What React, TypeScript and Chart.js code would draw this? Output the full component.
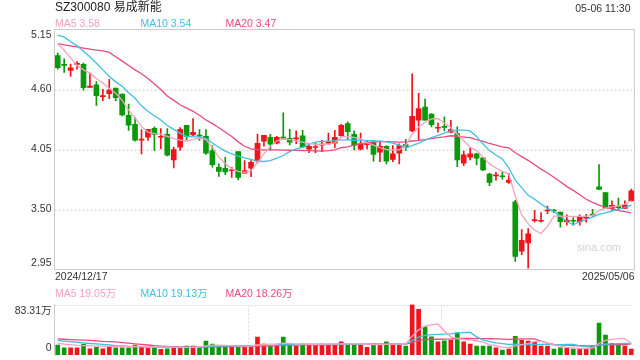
import { useEffect, useRef } from "react";
import { Chart, registerables } from "chart.js";
Chart.register(...registerables);

const title = "SZ300080 易成新能";
const timeLabel = "05-06 11:30";

const dates = [
  "2024/12/17","2024/12/18","2024/12/19","2024/12/20","2024/12/23","2024/12/24","2024/12/25","2024/12/26","2024/12/27","2024/12/30","2024/12/31",
  "2025/01/02","2025/01/03","2025/01/06","2025/01/07","2025/01/08","2025/01/09","2025/01/10","2025/01/13","2025/01/14","2025/01/15","2025/01/16","2025/01/17","2025/01/20","2025/01/21","2025/01/22","2025/01/23","2025/01/24","2025/01/27",
  "2025/02/05","2025/02/06","2025/02/07","2025/02/10","2025/02/11","2025/02/12","2025/02/13","2025/02/14","2025/02/17","2025/02/18","2025/02/19","2025/02/20","2025/02/21","2025/02/24","2025/02/25","2025/02/26","2025/02/27","2025/02/28",
  "2025/03/03","2025/03/04","2025/03/05","2025/03/06","2025/03/07","2025/03/10","2025/03/11","2025/03/12","2025/03/13","2025/03/14","2025/03/17","2025/03/18","2025/03/19","2025/03/20","2025/03/21","2025/03/24","2025/03/25","2025/03/26","2025/03/27","2025/03/28","2025/03/31",
  "2025/04/01","2025/04/02","2025/04/03","2025/04/07","2025/04/08","2025/04/09","2025/04/10","2025/04/11","2025/04/14","2025/04/15","2025/04/16","2025/04/17","2025/04/18","2025/04/21","2025/04/22","2025/04/23","2025/04/24","2025/04/25","2025/04/28","2025/04/29","2025/04/30",
  "2025/05/06"
];

const opens = [
  4.91,4.83,4.774,4.83,4.83,4.62,4.642,4.535,4.562,4.614,
  4.558,4.364,4.281,4.136,4.164,4.244,4.162,4.189,3.955,4.072,
  4.272,4.183,4.178,4.17,4.041,3.887,3.878,3.855,4.032,3.832,
  3.878,3.942,4.127,4.161,4.109,4.158,4.152,4.147,4.176,4.053,
  4.068,4.09,4.109,4.109,4.176,4.287,4.189,4.053,4.094,4.118,
  4.025,4.078,3.958,4.016,4.096,4.22,4.318,4.438,4.374,4.245,
  4.256,4.21,4.195,3.924,3.979,4.01,3.973,3.825,3.808,3.803,
  3.748,3.57,3.117,3.194,3.398,3.392,3.486,3.49,3.477,3.388,
  3.395,3.388,3.42,3.452,3.708,3.656,3.511,3.52,3.511,3.579
];
const closes = [
  4.80,4.82,4.799,4.835,4.617,4.632,4.543,4.54,4.595,4.525,
  4.367,4.272,4.136,4.14,4.235,4.189,4.166,3.998,4.05,4.235,
  4.17,4.207,4.172,4.016,3.912,3.85,3.844,3.86,3.794,3.856,
  3.933,4.106,4.18,4.099,4.161,4.155,4.118,4.15,4.072,4.078,
  4.072,4.094,4.121,4.161,4.272,4.213,4.087,4.103,4.097,4.004,
  4.078,3.942,4.01,4.087,4.072,4.355,4.426,4.318,4.278,4.248,
  4.253,4.232,3.955,4.001,4.01,3.97,3.862,3.748,3.811,3.80,
  3.77,3.07,3.218,3.277,3.402,3.395,3.49,3.486,3.388,3.403,
  3.392,3.431,3.425,3.449,3.684,3.511,3.539,3.517,3.542,3.671
];
const highs = [
  4.934,4.88,4.833,4.857,4.842,4.75,4.672,4.602,4.694,4.614,
  4.558,4.466,4.343,4.232,4.235,4.257,4.241,4.241,4.072,4.251,
  4.272,4.334,4.232,4.232,4.087,3.918,3.979,3.887,4.032,3.948,
  3.948,4.192,4.18,4.189,4.17,4.386,4.235,4.22,4.226,4.102,
  4.109,4.133,4.201,4.226,4.281,4.303,4.22,4.201,4.127,4.133,
  4.124,4.087,4.087,4.102,4.143,4.743,4.565,4.512,4.38,4.293,
  4.349,4.318,4.257,4.035,4.066,4.016,3.973,3.834,3.841,3.841,
  3.832,3.585,3.317,3.326,3.493,3.471,3.532,3.502,3.477,3.45,
  3.425,3.45,3.456,3.502,3.912,3.656,3.579,3.604,3.579,3.687
];
const lows = [
  4.786,4.756,4.719,4.786,4.595,4.62,4.454,4.497,4.515,4.497,
  4.358,4.226,4.127,4.01,4.133,4.041,4.056,3.992,3.881,4.041,
  4.136,4.176,4.133,4.004,3.887,3.804,3.819,3.794,3.772,3.832,
  3.80,3.927,4.081,4.047,4.102,4.146,4.093,4.103,4.066,4.022,
  4.022,4.032,4.096,4.066,4.17,4.139,4.047,4.047,4.056,3.942,
  3.939,3.918,3.939,3.918,4.041,4.214,4.139,4.318,4.257,4.21,
  4.22,4.201,3.893,3.902,3.955,3.911,3.856,3.718,3.77,3.779,
  3.739,3.024,3.086,2.963,3.385,3.385,3.462,3.471,3.339,3.357,
  3.357,3.357,3.385,3.44,3.684,3.511,3.493,3.508,3.511,3.579
];

const ma5 = [
  5.02,4.96,4.89,4.82,4.78,4.75,4.70,4.66,4.61,4.565,
  4.50,4.41,4.34,4.26,4.21,4.195,4.19,4.17,4.15,4.135,
  4.127,4.14,4.155,4.14,4.07,3.98,3.92,3.875,3.85,3.84,
  3.855,3.93,4.01,4.08,4.13,4.146,4.14,4.13,4.118,4.105,
  4.098,4.096,4.10,4.11,4.165,4.168,4.16,4.15,4.11,4.09,
  4.066,4.05,4.047,4.047,4.087,4.19,4.256,4.30,4.33,4.334,
  4.29,4.25,4.19,4.13,4.07,4.04,3.98,3.918,3.88,3.85,
  3.825,3.62,3.45,3.37,3.31,3.28,3.348,3.44,3.44,3.437,
  3.437,3.437,3.44,3.446,3.49,3.51,3.525,3.533,3.55,3.58
];
const ma10 = [
  5.098,5.08,5.04,5.00,4.95,4.90,4.84,4.78,4.72,4.67,
  4.63,4.57,4.52,4.45,4.40,4.36,4.32,4.27,4.235,4.20,
  4.17,4.165,4.165,4.15,4.11,4.07,4.035,4.01,3.99,3.973,
  3.96,3.942,3.94,3.948,3.97,3.995,4.03,4.055,4.07,4.10,
  4.118,4.125,4.127,4.13,4.139,4.139,4.135,4.133,4.13,4.128,
  4.127,4.12,4.109,4.09,4.066,4.085,4.109,4.135,4.158,4.18,
  4.20,4.22,4.228,4.228,4.22,4.17,4.10,4.04,4.00,3.964,
  3.88,3.77,3.70,3.63,3.594,3.55,3.51,3.48,3.44,3.39,
  3.36,3.39,3.41,3.43,3.456,3.47,3.485,3.50,3.52,3.54
];
const ma20 = [
  5.021,5.01,5.00,4.99,4.98,4.97,4.96,4.955,4.94,4.90,
  4.86,4.82,4.78,4.745,4.70,4.65,4.60,4.54,4.50,4.46,
  4.43,4.40,4.364,4.32,4.287,4.25,4.21,4.17,4.12,4.08,
  4.055,4.047,4.047,4.047,4.047,4.045,4.043,4.042,4.041,4.04,
  4.037,4.035,4.04,4.047,4.066,4.075,4.09,4.103,4.11,4.118,
  4.124,4.122,4.12,4.118,4.12,4.128,4.133,4.14,4.15,4.158,
  4.165,4.176,4.17,4.164,4.158,4.14,4.125,4.105,4.09,4.075,
  4.066,4.02,3.985,3.95,3.91,3.87,3.835,3.795,3.755,3.71,
  3.675,3.635,3.594,3.565,3.54,3.52,3.505,3.49,3.48,3.47
];

const volumes = [
  16.3,12,12,12,18,10.3,12.6,10.3,12.6,12,
  12,12,16.3,13.6,12,12,9.2,10.3,10.9,12,
  14.7,14.7,12.6,22.9,18,12.6,14.7,14.7,12.6,14.7,
  14.7,29.4,18,14.7,16.3,29.4,16.3,14.7,18,16.3,
  16.3,18,18,18,21.8,18,16.3,18,12.5,18,
  16.3,21.8,18,18,14.7,83.31,75.2,46.3,29.9,21.8,
  23.4,24.5,36.5,21.8,18,14.7,14.7,14.7,12,8.2,
  9.8,31,24.5,22.9,21.2,14.7,14.7,9.8,12,12,
  9.8,9.8,9.8,14.7,52.8,32.7,19.1,16.3,14.7,9.8
];
const volMa5 = [
  19,18,17,16,15.5,15,14.7,14.5,14.2,14,
  14,14,14,13.8,13.6,13.6,13.5,13.2,12.8,12.5,
  12.5,12.8,13.5,15,16.3,16.3,16,15.5,14.7,14.5,
  14.5,16.5,17.5,18,18.5,19.5,19,18,17.8,17.5,
  17,17.5,18,18,18.5,18.8,18.5,18.5,17.5,17,
  17,17.5,18,18.5,18,31,41.5,47.5,49.8,51.2,
  39.5,30,27.2,25.6,24.8,23.1,21.1,17,15,13,
  12,15.1,17.1,19.3,21.9,22.9,19.6,16.7,14.5,12.6,
  11.7,10.7,10.7,11.2,19.4,24,25.8,27.1,27.1,19.05
];
const volMa10 = [
  24,23,22,21,20,19,18.5,17.5,16.5,15.5,
  15,14.2,13.8,13.5,13.3,13,12.8,12.6,12.5,12.4,
  12.4,12.6,12.8,13.5,14.2,14.5,14.8,15,15.3,15.3,
  15.3,16,16,16,16.2,17,17.5,17.5,18,18,
  18,18,17.5,17.8,18.3,18,17.8,17.6,17.6,17.6,
  17.8,18,18.2,18,17.6,24,29.5,32.5,33.5,34,
  34.5,35,36.5,37,37.5,30,25,22,20,18.9,
  17.5,18,17,17,17.4,17.4,17.4,16.9,16.9,17.3,
  17.3,15.1,13.7,12.9,16,17.8,18.3,18.9,19.2,19.13
];
const volMa20 = [
  26.5,26,25.5,25,24.5,24,23.3,22.5,22,21.5,
  20.5,19.5,18.5,17.5,16.5,15.5,14.8,14,13.6,13.3,
  13,13,13,13.3,13.6,13.6,13.7,13.8,13.9,14,
  14.2,14.8,15,15.2,15.4,16,16.2,16.3,16.6,16.6,
  16.7,16.8,16.8,17,17.3,17.5,17.6,17.6,17.8,17.8,
  17.9,17.8,17.8,17.9,17.8,21,24,25.5,26,26,
  26.3,26.5,27.2,27.2,27.2,27,26.9,26.8,26.5,26.1,
  25.7,26.2,26.5,26.5,26.7,23,19.5,17.6,16.7,16.2,
  15.7,15.4,15.2,15,16.5,17,16.9,16.9,17.3,18.26
];

const priceTicks = [5.15, 4.6, 4.05, 3.5, 2.95];
const volTicks = [83.31, 0];

const RED = "#f0141c";
const GREEN = "#0a990a";
const C5 = "#f7a1c1";
const C10 = "#3ec0e0";
const C20 = "#e94b7e";
const FRAME = "#cccccc";
const GRID = "#dcdcdc";
const TEXT = "#333333";
const FONT = '"Liberation Sans", Arial, "Noto Sans CJK SC", sans-serif';

const upFlags = closes.map((c, i) => c >= opens[i]);
const candleColors = upFlags.map((u) => (u ? RED : GREEN));

const lastOf = (a: number[]) => a[a.length - 1];

const pricePlugin = {
  id: "pricePlugin",
  beforeDatasetsDraw(chart: any) {
    const { ctx, chartArea: a, scales } = chart;
    const y = scales.y;
    ctx.save();
    ctx.strokeStyle = GRID;
    ctx.lineWidth = 1.5;
    ctx.setLineDash([2, 2]);
    priceTicks.slice(1, -1).forEach((v) => {
      const py = Math.round(y.getPixelForValue(v)) + 0.25;
      ctx.beginPath();
      ctx.moveTo(a.left, py);
      ctx.lineTo(a.right, py);
      ctx.stroke();
    });
    ctx.restore();
  },
  afterDatasetsDraw(chart: any) {
    const { ctx, chartArea: a } = chart;
    ctx.save();
    ctx.strokeStyle = FRAME;
    ctx.lineWidth = 1;
    ctx.strokeRect(a.left, a.top, a.right - a.left, a.bottom - a.top);
    ctx.restore();
  },
  afterDraw(chart: any) {
    const { ctx, chartArea: a, scales } = chart;
    const y = scales.y;
    ctx.save();
    ctx.textBaseline = "middle";
    // y labels
    ctx.font = `10.5px ${FONT}`;
    ctx.fillStyle = TEXT;
    ctx.textAlign = "right";
    priceTicks.forEach((v) => {
      let py = y.getPixelForValue(v);
      py = Math.min(Math.max(py, a.top + 5.5), a.bottom - 6);
      ctx.fillText(v.toFixed(2), a.left - 3, py);
    });
    // dates
    ctx.textAlign = "left";
    ctx.fillText(dates[0], a.left + 0.5, a.bottom + 7.3);
    ctx.textAlign = "right";
    ctx.fillText(dates[dates.length - 1], a.right, a.bottom + 7.3);
    // time
    ctx.fillText(timeLabel, 630.5, 9);
    // title
    ctx.textAlign = "left";
    ctx.font = `12px ${FONT}`;
    ctx.fillStyle = "#222";
    ctx.fillText(title, 55, 7.5);
    // legend
    ctx.font = `10.5px ${FONT}`;
    ctx.fillStyle = C5;
    ctx.fillText(`MA5 ${lastOf(ma5).toFixed(2)}`, 55, 24);
    ctx.fillStyle = C10;
    ctx.fillText(`MA10 ${lastOf(ma10).toFixed(2)}`, 140.5, 24);
    ctx.fillStyle = C20;
    ctx.fillText(`MA20 ${lastOf(ma20).toFixed(2)}`, 225.5, 24);
    // watermark
    ctx.font = `11px ${FONT}`;
    ctx.fillStyle = "#d2d2d2";
    ctx.textAlign = "right";
    ctx.fillText("sina.com", 621, 248);
    ctx.restore();
  },
};

const volPlugin = {
  id: "volPlugin",
  beforeDatasetsDraw(chart: any) {
    const { ctx, chartArea: a, scales } = chart;
    const y = scales.y;
    ctx.save();
    ctx.strokeStyle = GRID;
    ctx.lineWidth = 1;
    ctx.setLineDash([2, 2]);
    const ty = Math.round(y.getPixelForValue(volTicks[0])) + 0.5;
    ctx.beginPath();
    ctx.moveTo(a.left, ty);
    ctx.lineTo(a.right, ty);
    ctx.stroke();
    const w = a.right - a.left;
    [1, 2].forEach((k) => {
      const px = Math.round(a.left + (w * k) / 3) + 0.5;
      ctx.beginPath();
      ctx.moveTo(px, ty);
      ctx.lineTo(px, a.bottom);
      ctx.stroke();
    });
    ctx.setLineDash([]);
    ctx.strokeStyle = FRAME;
    ctx.beginPath();
    ctx.moveTo(a.left, a.top - 0.5);
    ctx.lineTo(a.left, a.bottom + 1);
    ctx.stroke();
    ctx.restore();
  },
  afterDraw(chart: any) {
    const { ctx, chartArea: a, scales } = chart;
    const y = scales.y;
    ctx.save();
    ctx.textBaseline = "middle";
    ctx.font = `10.5px ${FONT}`;
    ctx.fillStyle = TEXT;
    ctx.textAlign = "right";
    volTicks.forEach((v) => {
      let py = y.getPixelForValue(v);
      py = Math.min(Math.max(py, a.top + 7), a.bottom - 6.7);
      ctx.fillText(v === 0 ? "0" : `${v.toFixed(2)}万`, a.left - 3, py);
    });
    ctx.textAlign = "left";
    ctx.fillStyle = C5;
    ctx.fillText(`MA5 ${lastOf(volMa5).toFixed(2)}万`, 55, 9);
    ctx.fillStyle = C10;
    ctx.fillText(`MA10 ${lastOf(volMa10).toFixed(2)}万`, 140.5, 9);
    ctx.fillStyle = C20;
    ctx.fillText(`MA20 ${lastOf(volMa20).toFixed(2)}万`, 225.5, 9);
    ctx.restore();
  },
};

const lineDs = (label: string, data: number[], color: string) => ({
  type: "line" as const,
  label,
  data,
  borderColor: color,
  borderWidth: 1.3,
  pointRadius: 0,
  fill: false,
  tension: 0,
  order: 0,
});

export default function App() {
  const pRef = useRef<HTMLCanvasElement>(null);
  const vRef = useRef<HTMLCanvasElement>(null);

  useEffect(() => {
    document.body.style.margin = "0";
    const common: any = {
      responsive: false,
      maintainAspectRatio: false,
      animation: false,
      events: [],
      plugins: { legend: { display: false }, tooltip: { enabled: false } },
    };
    const pc = new Chart(pRef.current!, {
      type: "bar",
      data: {
        labels: dates,
        datasets: [
          lineDs("MA5", ma5, C5),
          lineDs("MA10", ma10, C10),
          lineDs("MA20", ma20, C20),
          {
            type: "bar",
            label: "body",
            data: opens.map((o, i) => [o, closes[i]]),
            backgroundColor: candleColors,
            barThickness: 5,
            minBarLength: 1,
            grouped: false,
            borderWidth: 0,
            order: 1,
          } as any,
          {
            type: "bar",
            label: "wick",
            data: lows.map((l, i) => [l, highs[i]]),
            backgroundColor: candleColors,
            barThickness: 1,
            grouped: false,
            borderWidth: 0,
            order: 2,
          } as any,
        ],
      },
      options: {
        ...common,
        layout: { padding: { left: 54.5, right: 5.5, top: 29.5, bottom: 15.5 } },
        scales: {
          x: { type: "category", display: false, offset: true, grid: { display: false } },
          y: { display: false, min: priceTicks[priceTicks.length - 1], max: priceTicks[0] },
        },
      },
      plugins: [pricePlugin],
    });
    const vc = new Chart(vRef.current!, {
      type: "bar",
      data: {
        labels: dates,
        datasets: [
          lineDs("MA5", volMa5, C5),
          lineDs("MA10", volMa10, C10),
          lineDs("MA20", volMa20, C20),
          {
            type: "bar",
            label: "vol",
            data: volumes,
            backgroundColor: candleColors,
            barThickness: 4,
            grouped: false,
            borderWidth: 0,
            order: 1,
          } as any,
        ],
      },
      options: {
        ...common,
        layout: { padding: { left: 54.5, right: 5.5, top: 19.5, bottom: 5 } },
        scales: {
          x: { type: "category", display: false, offset: true, grid: { display: false } },
          y: { display: false, min: 0, max: volTicks[0] },
        },
      },
      plugins: [volPlugin],
    });
    return () => {
      pc.destroy();
      vc.destroy();
    };
  }, []);

  return (
    <div style={{ position: "absolute", left: 0, top: 0, width: 640, height: 360, background: "#fff" }}>
      <canvas
        ref={pRef}
        width={640}
        height={285}
        style={{ position: "absolute", left: 0, top: 0, width: 640, height: 285, display: "block" }}
      />
      <canvas
        ref={vRef}
        width={640}
        height={75}
        style={{ position: "absolute", left: 0, top: 285, width: 640, height: 75, display: "block" }}
      />
    </div>
  );
}
